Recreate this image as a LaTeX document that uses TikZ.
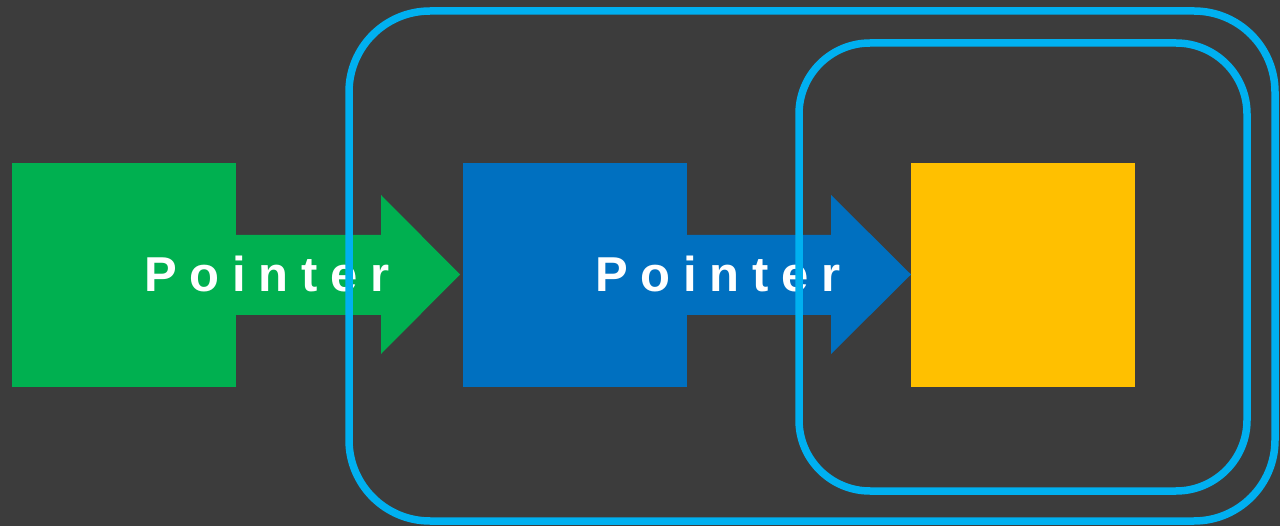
\documentclass[tikz,border=0pt]{standalone}
\usepackage{fontspec}
\newfontfamily\ptfont[LetterSpace=26]{Liberation Sans}
\definecolor{bg}{HTML}{3C3C3C}
\definecolor{grn}{HTML}{00B050}
\definecolor{blu}{HTML}{0070C0}
\definecolor{yel}{HTML}{FFC000}
\definecolor{outl}{HTML}{00B0F0}
\tikzset{
  sq/.style={minimum size=224pt, inner sep=0pt, outer sep=0pt, draw=none, anchor=north west},
  lbl/.style={anchor=base west, inner sep=0pt, text=white, font=\ptfont\bfseries\fontsize{49}{49}\selectfont},
  frame/.style={draw=outl, line width=7.5pt}
}
\begin{document}
\begin{tikzpicture}[x=1pt,y=-1pt]
\fill[bg] (0,0) rectangle (1280,526);
\useasboundingbox (0,0) rectangle (1280,526);
\node[sq, fill=grn] (g) at (12,163) {};
\node[sq, fill=blu] (b) at (463,163) {};
\node[sq, fill=yel] (y) at (911,163) {};
\fill[grn] (g.east |- 0,235) -- (381,235) -- (381,195) -- (460,274.5) -- (381,354) -- (381,315) -- (g.east |- 0,315) -- cycle;
\fill[blu] (b.east |- 0,235) -- (831,235) -- (831,195) -- (y.west |- 0,274.5) -- (831,354) -- (831,315) -- (b.east |- 0,315) -- cycle;
\node[lbl] (t1) at (144,292) {Pointer};
\node[lbl] (t2) at (595,292) {Pointer};
\draw[frame, rounded corners=81pt] (349,11) rectangle (1275,521);
\draw[frame, rounded corners=71pt] (799,43) rectangle (1247,491);
\end{tikzpicture}
\end{document}
